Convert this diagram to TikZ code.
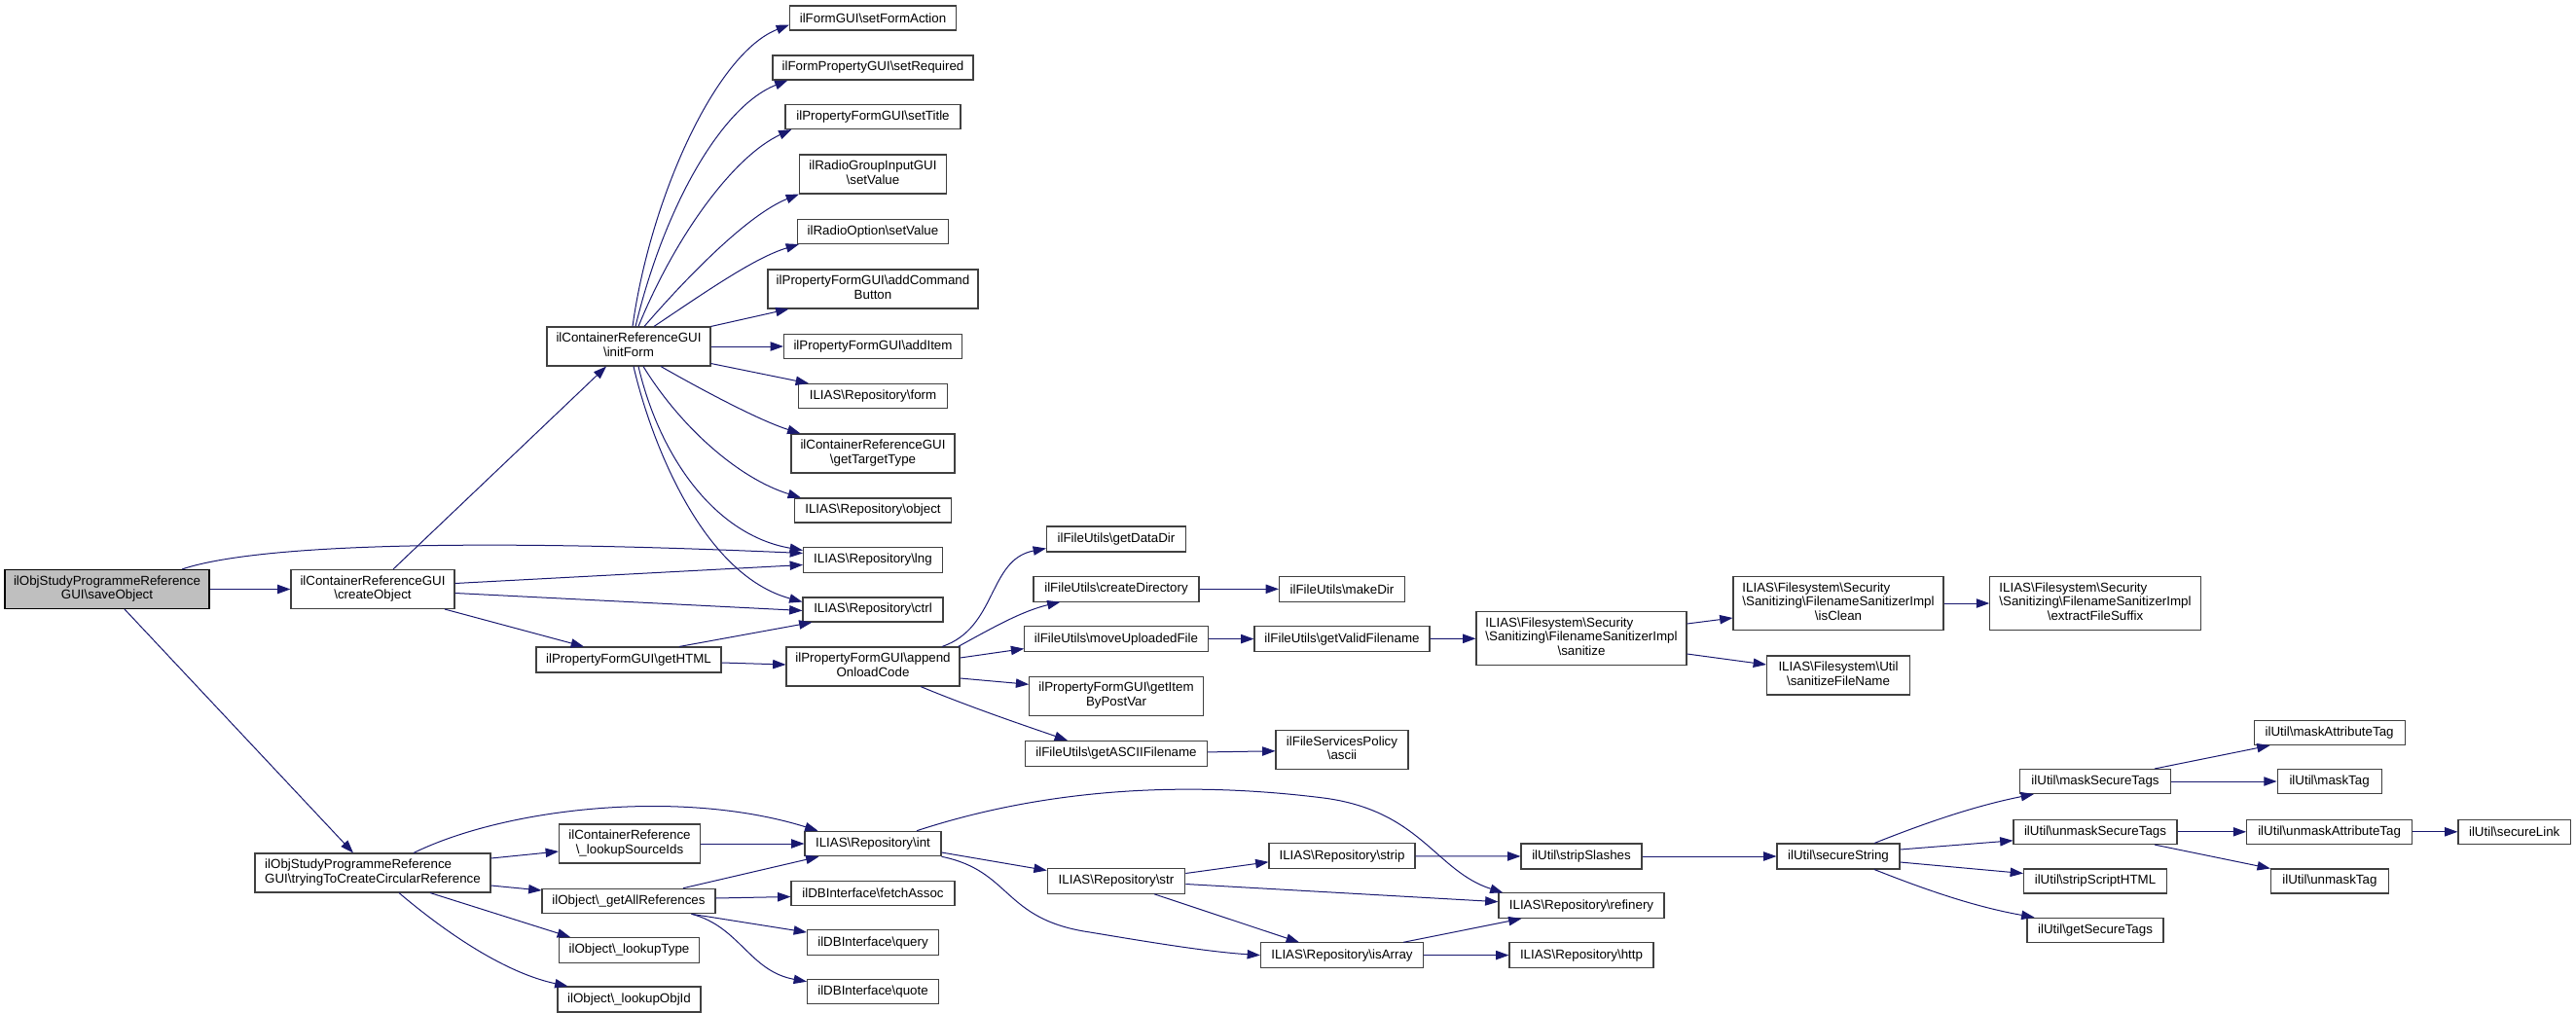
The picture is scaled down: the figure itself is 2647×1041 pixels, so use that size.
\documentclass[tikz,border=0pt]{standalone}
\usepackage{fontspec}
\setmainfont{Liberation Sans}
\usetikzlibrary{arrows.meta,calc}
\definecolor{edgec}{HTML}{191970}
\definecolor{rootc}{HTML}{BFBFBF}
\definecolor{borderc}{HTML}{404040}
\newcommand\bsl{\textbackslash}
\newcommand\ml[2]{\begin{tabular}{@{}l@{}}#1\\\multicolumn{1}{@{}c@{}}{#2}\end{tabular}}
\tikzset{
 nd/.style={draw=borderc, line width=0.8pt, fill=white, inner sep=0pt, font=\fontsize{10}{11}\selectfont},
 wh/.style 2 args={minimum width=#1*0.75pt, minimum height=#2*0.75pt},
 ed/.style={edgec, line width=0.75pt, -{Triangle[length=10pt,width=7pt]}},
}
\begin{document}
\begin{tikzpicture}[x=0.75pt,y=-0.75pt]
\useasboundingbox (0,0) rectangle (2647,1041);
% nodes
\node[nd,wh={210}{40},fill=rootc,draw=black] (save) at (110,605.5) {\ml{ilObjStudyProgrammeReference}{GUI\bsl saveObject}};
\node[nd,wh={168}{40}] (create) at (383,605.5) {\ml{ilContainerReferenceGUI}{\bsl createObject}};
\node[nd,wh={168}{40}] (initForm) at (646,356) {\ml{ilContainerReferenceGUI}{\bsl initForm}};
\node[nd,wh={190}{26}] (getHTML) at (646,678) {ilPropertyFormGUI\bsl getHTML};
\node[nd,wh={242}{40}] (trying) at (383,897) {\ml{ilObjStudyProgrammeReference}{GUI\bsl tryingToCreateCircularReference}};
\node[nd,wh={171}{25}] (setFormAction) at (897,18.5) {ilFormGUI\bsl setFormAction};
\node[nd,wh={206}{25}] (setRequired) at (897,69.5) {ilFormPropertyGUI\bsl setRequired};
\node[nd,wh={180}{25}] (setTitle) at (897,120) {ilPropertyFormGUI\bsl setTitle};
\node[nd,wh={151}{40}] (radioGroup) at (897,179) {\ml{ilRadioGroupInputGUI}{\bsl setValue}};
\node[nd,wh={155}{25}] (radioOption) at (897,238) {ilRadioOption\bsl setValue};
\node[nd,wh={216}{40}] (addCommand) at (897,297) {\ml{ilPropertyFormGUI\bsl addCommand}{Button}};
\node[nd,wh={183}{25}] (addItem) at (897,356) {ilPropertyFormGUI\bsl addItem};
\node[nd,wh={153}{25}] (form) at (897,407) {ILIAS\bsl Repository\bsl form};
\node[nd,wh={168}{40}] (targetType) at (897,466) {\ml{ilContainerReferenceGUI}{\bsl getTargetType}};
\node[nd,wh={161}{25}] (object) at (897,524.5) {ILIAS\bsl Repository\bsl object};
\node[nd,wh={143}{26}] (lng) at (897,575.5) {ILIAS\bsl Repository\bsl lng};
\node[nd,wh={144}{25}] (ctrl) at (897,626.5) {ILIAS\bsl Repository\bsl ctrl};
\node[nd,wh={178}{40}] (append) at (897,685) {\ml{ilPropertyFormGUI\bsl append}{OnloadCode}};
\node[nd,wh={145}{40}] (lookupSrc) at (647,867) {\ml{ilContainerReference}{\bsl\_lookupSourceIds}};
\node[nd,wh={178}{25.5}] (allRefs) at (646,926) {ilObject\bsl\_getAllReferences};
\node[nd,wh={144}{26}] (lookupType) at (646.5,976.5) {ilObject\bsl\_lookupType};
\node[nd,wh={147}{26}] (lookupObjId) at (646.5,1027) {ilObject\bsl\_lookupObjId};
\node[nd,wh={140}{25.5}] (int) at (897,867) {ILIAS\bsl Repository\bsl int};
\node[nd,wh={168}{25.5}] (fetchAssoc) at (897,918) {ilDBInterface\bsl fetchAssoc};
\node[nd,wh={135}{26}] (query) at (897,968.6) {ilDBInterface\bsl query};
\node[nd,wh={135}{25.5}] (quote) at (897,1019) {ilDBInterface\bsl quote};
\node[nd,wh={143}{26}] (dataDir) at (1147,554) {ilFileUtils\bsl getDataDir};
\node[nd,wh={170}{25.5}] (createDir) at (1147,605.3) {ilFileUtils\bsl createDirectory};
\node[nd,wh={188.5}{25.5}] (moveUp) at (1147,656.6) {ilFileUtils\bsl moveUploadedFile};
\node[nd,wh={178.5}{40}] (getItem) at (1147,715.3) {\ml{ilPropertyFormGUI\bsl getItem}{ByPostVar}};
\node[nd,wh={187}{26}] (asciiName) at (1147,774.4) {ilFileUtils\bsl getASCIIFilename};
\node[nd,wh={141.5}{25.5}] (str) at (1147,905.5) {ILIAS\bsl Repository\bsl str};
\node[nd,wh={129}{25.5}] (makeDir) at (1379,605.3) {ilFileUtils\bsl makeDir};
\node[nd,wh={180}{25.5}] (validName) at (1379,656.6) {ilFileUtils\bsl getValidFilename};
\node[nd,wh={136}{40}] (ascii) at (1379,770.7) {\ml{ilFileServicesPolicy}{\bsl ascii}};
\node[nd,wh={150}{26}] (strip) at (1379,879.8) {ILIAS\bsl Repository\bsl strip};
\node[nd,wh={167}{25.5}] (isArray) at (1379,981.6) {ILIAS\bsl Repository\bsl isArray};
\node[nd,wh={216}{55}] (sanitize) at (1625,656) {\ml{ILIAS\bsl Filesystem\bsl Security\\\bsl Sanitizing\bsl FilenameSanitizerImpl}{\bsl sanitize}};
\node[nd,wh={124}{26}] (stripSlashes) at (1625,880) {ilUtil\bsl stripSlashes};
\node[nd,wh={170}{25.5}] (refinery) at (1625,930.7) {ILIAS\bsl Repository\bsl refinery};
\node[nd,wh={148}{25.5}] (http) at (1625,981.6) {ILIAS\bsl Repository\bsl http};
\node[nd,wh={216}{55}] (isClean) at (1889,620) {\ml{ILIAS\bsl Filesystem\bsl Security\\\bsl Sanitizing\bsl FilenameSanitizerImpl}{\bsl isClean}};
\node[nd,wh={147}{40}] (sanFile) at (1889,694) {\ml{ILIAS\bsl Filesystem\bsl Util}{\bsl sanitizeFileName}};
\node[nd,wh={126}{26}] (secureString) at (1889,880) {ilUtil\bsl secureString};
\node[nd,wh={216.5}{55}] (extract) at (2153,620) {\ml{ILIAS\bsl Filesystem\bsl Security\\\bsl Sanitizing\bsl FilenameSanitizerImpl}{\bsl extractFileSuffix}};
\node[nd,wh={155}{25}] (maskSecure) at (2153,803) {ilUtil\bsl maskSecureTags};
\node[nd,wh={168}{25.5}] (unmaskSecure) at (2153,854.8) {ilUtil\bsl unmaskSecureTags};
\node[nd,wh={147}{25}] (stripScript) at (2153,905.5) {ilUtil\bsl stripScriptHTML};
\node[nd,wh={140}{25.5}] (secureTags) at (2153,956) {ilUtil\bsl getSecureTags};
\node[nd,wh={155}{25}] (maskAttr) at (2393.6,753) {ilUtil\bsl maskAttributeTag};
\node[nd,wh={107}{25}] (maskTag) at (2393.6,803) {ilUtil\bsl maskTag};
\node[nd,wh={170}{25.5}] (unmaskAttr) at (2393.6,854.8) {ilUtil\bsl unmaskAttributeTag};
\node[nd,wh={121}{25}] (unmaskTag) at (2393.9,905.5) {ilUtil\bsl unmaskTag};
\node[nd,wh={115.5}{25.5}] (secureLink) at (2583.7,854.8) {ilUtil\bsl secureLink};
% edges
\draw[ed] (save) -- (create);
\draw[ed] ($(save.north)+(77,0)$) .. controls (255,562) and (450,552) .. ($(lng.west)+(0,-7)$);
\draw[ed] ($(save.south)+(18,0)$) -- ($(trying.north)+(-20,0)$);
\draw[ed] ($(create.north)+(21,0)$) -- ($(initForm.south)+(-23,0)$);
\draw[ed] ($(create.east)+(0,-6)$) -- ($(lng.west)+(0,5)$);
\draw[ed] ($(create.east)+(0,4)$) -- ($(ctrl.west)+(0,1)$);
\draw[ed] ($(create.south)+(74,0)$) -- ($(getHTML.north)+(-46,0)$);
\draw[ed] ($(initForm.north)+(4,0)$) .. controls (668,205) and (735,55) .. ($(setFormAction.west)+(0,7)$);
\draw[ed] ($(initForm.north)+(7,0)$) .. controls (682,215) and (740,110) .. ($(setRequired.south west)+(16,0)$);
\draw[ed] ($(initForm.north)+(10,0)$) .. controls (695,240) and (755,160) .. ($(setTitle.south west)+(7,0)$);
\draw[ed] ($(initForm.north)+(16,0)$) .. controls (710,280) and (770,220) .. (radioGroup.south west);
\draw[ed] ($(initForm.north)+(26,0)$) .. controls (725,300) and (775,265) .. ($(radioOption.south west)+(2,0)$);
\draw[ed] (initForm.north east) -- ($(addCommand.south west)+(22,0)$);
\draw[ed] (initForm) -- (addItem);
\draw[ed] ($(initForm.south east)+(0,-3)$) -- ($(form.north west)+(11,0)$);
\draw[ed] ($(initForm.south)+(33,0)$) .. controls (720,400) and (780,432) .. ($(targetType.north west)+(10,0)$);
\draw[ed] ($(initForm.south)+(15,0)$) .. controls (700,440) and (760,492) .. ($(object.north west)+(7,0)$);
\draw[ed] ($(initForm.south)+(10,0)$) .. controls (678,470) and (735,550) .. ($(lng.west)+(0,-10)$);
\draw[ed] ($(initForm.south)+(5,0)$) .. controls (668,450) and (720,590) .. ($(ctrl.west)+(0,-8)$);
\draw[ed] ($(getHTML.north)+(52,0)$) -- ($(ctrl.south west)+(10,0)$);
\draw[ed] ($(getHTML.east)+(0,3)$) -- ($(append.west)+(0,-2)$);
\draw[ed] ($(append.north)+(71,0)$) .. controls (1025,645) and (1015,575) .. ($(dataDir.south west)+(0,-4)$);
\draw[ed] ($(append.north east)+(-2,0)$) .. controls (1020,645) and (1050,628) .. ($(createDir.south west)+(28,0)$);
\draw[ed] ($(append.east)+(0,-9)$) -- ($(moveUp.west)+(0,10)$);
\draw[ed] ($(append.east)+(0,12)$) -- ($(getItem.west)+(0,-12)$);
\draw[ed] ($(append.south)+(49,0)$) .. controls (1000,728) and (1060,748) .. ($(asciiName.north west)+(44,0)$);
\draw[ed] (createDir) -- (makeDir);
\draw[ed] (moveUp) -- (validName);
\draw[ed] (validName) -- (sanitize);
\draw[ed] ($(sanitize.east)+(0,-15)$) -- ($(isClean.west)+(0,15)$);
\draw[ed] ($(sanitize.east)+(0,16)$) -- ($(sanFile.west)+(0,-11)$);
\draw[ed] (isClean) -- (extract);
\draw[ed] (asciiName) -- (ascii);
\draw[ed] ($(trying.north)+(42,0)$) .. controls (520,830) and (700,810) .. ($(int.north west)+(14,0)$);
\draw[ed] ($(trying.east)+(0,-15)$) -- ($(lookupSrc.west)+(0,8)$);
\draw[ed] ($(trying.east)+(0,13)$) -- ($(allRefs.west)+(0,-11)$);
\draw[ed] ($(trying.south)+(59,0)$) -- ($(lookupType.north west)+(12,0)$);
\draw[ed] ($(trying.south)+(27,0)$) .. controls (460,960) and (520,1000) .. ($(lookupObjId.north west)+(11,0)$);
\draw[ed] (lookupSrc) -- (int);
\draw[ed] ($(allRefs.north)+(56,0)$) -- ($(int.south west)+(15,0)$);
\draw[ed] ($(allRefs.east)+(0,-3)$) -- ($(fetchAssoc.west)+(0,3.5)$);
\draw[ed] ($(allRefs.south east)+(-25,0)$) -- ($(query.north west)+(0,3)$);
\draw[ed] ($(allRefs.south east)+(-25,0)$) .. controls (760,952) and (770,998) .. ($(quote.north west)+(0,3)$);
\draw[ed] ($(int.north)+(45,0)$) .. controls (1060,815) and (1200,800) .. (1360,820) .. controls (1460,833) and (1475,895) .. ($(refinery.north west)+(5,0)$);
\draw[ed] ($(int.east)+(0,9)$) -- ($(str.west)+(0,-11)$);
\draw[ed] (int.south east) .. controls (1040,895) and (1030,945) .. (1120,958) .. controls (1180,968) and (1240,978) .. (isArray.west);
\draw[ed] ($(str.east)+(0,-8)$) -- ($(strip.west)+(0,6)$);
\draw[ed] ($(str.east)+(0,3)$) -- ($(refinery.west)+(0,-4)$);
\draw[ed] ($(str.south)+(39,0)$) -- ($(isArray.north west)+(40,0)$);
\draw[ed] ($(isArray.north)+(63,0)$) -- ($(refinery.south west)+(24,0)$);
\draw[ed] (isArray) -- (http);
\draw[ed] (strip) -- (stripSlashes);
\draw[ed] (stripSlashes) -- (secureString);
\draw[ed] ($(secureString.north)+(37,0)$) .. controls (1980,845) and (2030,828) .. ($(maskSecure.south west)+(15,0)$);
\draw[ed] ($(secureString.east)+(0,-7)$) -- ($(unmaskSecure.west)+(0,9)$);
\draw[ed] ($(secureString.east)+(0,6)$) -- ($(stripScript.west)+(0,-8)$);
\draw[ed] ($(secureString.south)+(37,0)$) .. controls (1980,915) and (2030,932) .. ($(secureTags.north west)+(8,0)$);
\draw[ed] ($(maskSecure.north)+(61,0)$) -- ($(maskAttr.south west)+(17,0)$);
\draw[ed] (maskSecure) -- (maskTag);
\draw[ed] (unmaskSecure) -- (unmaskAttr);
\draw[ed] ($(unmaskSecure.south)+(61,0)$) -- (unmaskTag.north west);
\draw[ed] (unmaskAttr) -- (secureLink);
\end{tikzpicture}
\end{document}
